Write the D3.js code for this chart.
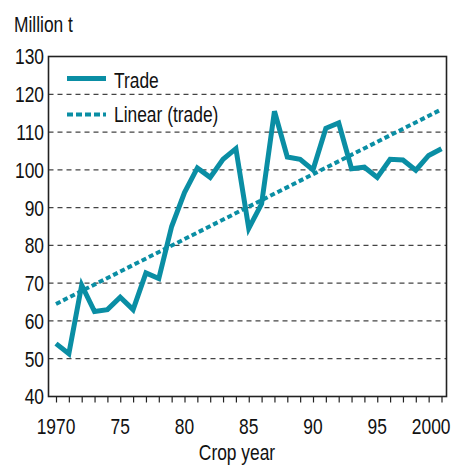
<!DOCTYPE html>
<html>
<head>
<meta charset="utf-8">
<script src="https://d3js.org/d3.v7.min.js"></script>
<style>
  body { margin: 0; background: #fff; }
  svg text { font-family: "Liberation Sans", Arial, sans-serif; fill: #111; }
</style>
</head>
<body>
<div id="chart"></div>
<script>
// crop years and trade volume (million t)
const years = [1970, 1971, 1972, 1973, 1974, 1975, 1976, 1977, 1978, 1979,
  1980, 1981, 1982, 1983, 1984, 1985, 1986, 1987, 1988, 1989,
  1990, 1991, 1992, 1993, 1994, 1995, 1996, 1997, 1998, 1999, 2000];
const trade = [54, 51.3, 69.5, 62.5, 63, 66.3, 63, 72.7, 71.2, 85,
  94, 100.5, 98, 102.8, 105.6, 84.5, 91, 115.5, 103.4, 102.8,
  100, 111, 112.4, 100.3, 100.7, 98, 102.8, 102.6, 99.9, 103.8, 105.6];

// linear trend, end points
const trendYears = [1970, 2000];
const trendValues = [64.5, 116];

const yTicks = [40, 50, 60, 70, 80, 90, 100, 110, 120, 130];
const xLabelYears = [1970, 1975, 1980, 1985, 1990, 1995, 2000];
const xLabels = ["1970", "75", "80", "85", "90", "95", "2000"];

const width = 461, height = 465;
const frame = { left: 48.5, right: 446.5, top: 56.5, bottom: 396.5 };
const color = "#0a8ea4";
const fontSize = "22px";

const svg = d3.select("#chart").append("svg")
  .attr("width", width)
  .attr("height", height);

const x = d3.scaleLinear().domain([1970, 2000]).range([56, 441.5]);
const y = d3.scaleLinear().domain([40, 130]).range([frame.bottom, frame.top]);

// gridlines
svg.append("g")
  .selectAll("line")
  .data(yTicks.slice(1, -1))
  .enter()
  .append("line")
  .attr("x1", frame.left)
  .attr("x2", frame.right)
  .attr("y1", d => y(d))
  .attr("y2", d => y(d))
  .attr("stroke", "#444")
  .attr("stroke-width", 1.3)
  .attr("stroke-dasharray", "5,4");

// frame
svg.append("rect")
  .attr("x", frame.left)
  .attr("y", frame.top)
  .attr("width", frame.right - frame.left)
  .attr("height", frame.bottom - frame.top)
  .attr("fill", "none")
  .attr("stroke", "#222")
  .attr("stroke-width", 1.6);

// x axis: a tick for every year, labels every five
const xAxis = svg.append("g")
  .attr("transform", `translate(0,${frame.bottom})`)
  .call(d3.axisBottom(x).tickValues(years).tickSize(6).tickFormat(""));
xAxis.select(".domain").remove();
xAxis.selectAll("line").attr("stroke", "#222").attr("stroke-width", 1.2);

const last = xLabelYears.length - 1;
svg.append("g")
  .selectAll("text")
  .data(xLabelYears)
  .enter()
  .append("text")
  .attr("x", (d, i) => i === last ? x(d) + 9 : x(d))
  .attr("y", 434)
  .attr("text-anchor", (d, i) => i === last ? "end" : "middle")
  .style("font-size", fontSize)
  .text((d, i) => xLabels[i]);

// y labels
svg.append("g")
  .selectAll("text")
  .data(yTicks)
  .enter()
  .append("text")
  .attr("x", 44)
  .attr("y", d => y(d))
  .attr("dy", "0.36em")
  .attr("text-anchor", "end")
  .style("font-size", fontSize)
  .text(d => d);

svg.append("text")
  .attr("x", 14)
  .attr("y", 32)
  .style("font-size", fontSize)
  .text("Million t");

svg.append("text")
  .attr("x", 237)
  .attr("y", 460)
  .attr("text-anchor", "middle")
  .style("font-size", fontSize)
  .text("Crop year");

// trend
svg.append("line")
  .attr("x1", x(trendYears[0]))
  .attr("y1", y(trendValues[0]))
  .attr("x2", x(trendYears[1]))
  .attr("y2", y(trendValues[1]))
  .attr("stroke", color)
  .attr("stroke-width", 4)
  .attr("stroke-dasharray", "5,3");

// trade line
const line = d3.line()
  .x((d, i) => x(years[i]))
  .y(d => y(d));

svg.append("path")
  .datum(trade)
  .attr("d", line)
  .attr("fill", "none")
  .attr("stroke", color)
  .attr("stroke-width", 5)
  .attr("stroke-linejoin", "miter");

// legend
const legend = svg.append("g");
legend.append("line")
  .attr("x1", 67).attr("x2", 106)
  .attr("y1", 78.5).attr("y2", 78.5)
  .attr("stroke", color)
  .attr("stroke-width", 5);
legend.append("text")
  .attr("x", 114).attr("y", 88)
  .style("font-size", fontSize)
  .text("Trade");
legend.append("line")
  .attr("x1", 67).attr("x2", 106)
  .attr("y1", 114.5).attr("y2", 114.5)
  .attr("stroke", color)
  .attr("stroke-width", 4)
  .attr("stroke-dasharray", "6,3");
legend.append("text")
  .attr("x", 114).attr("y", 121.5)
  .style("font-size", fontSize)
  .text("Linear (trade)");

// the original uses a condensed face: squeeze every label horizontally
svg.selectAll("text").each(function () {
  const w = this.getComputedTextLength();
  d3.select(this)
    .attr("textLength", w * 0.79)
    .attr("lengthAdjust", "spacingAndGlyphs");
});
</script>
</body>
</html>
